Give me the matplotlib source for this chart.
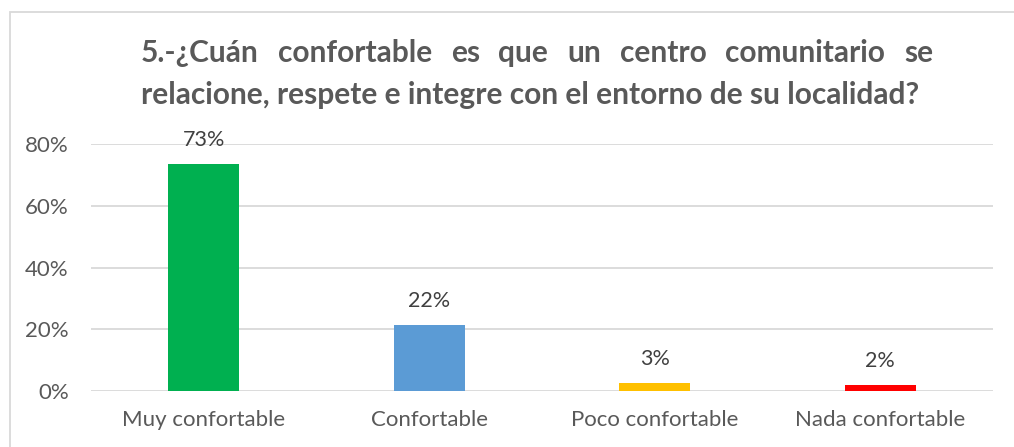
import matplotlib
matplotlib.use("Agg")
import matplotlib.pyplot as plt
from matplotlib.patches import Rectangle

categories = ["Muy confortable", "Confortable", "Poco confortable", "Nada confortable"]
values = [73.5, 21.5, 2.7, 2.0]
labels = ["73%", "22%", "3%", "2%"]
colors = ["#00B050", "#5B9BD5", "#FFC000", "#FF0000"]
title_lines = ["5.-¿Cuán confortable es que un centro comunitario se",
               "relacione, respete e integre con el entorno de su localidad?"]

plt.rcParams['font.family'] = ['Lato', 'DejaVu Sans']

fig = plt.figure(figsize=(10.14, 4.47), dpi=100)
ax = fig.add_axes([91 / 1014, 1 - 391 / 447, 902 / 1014, 247 / 447])

x = range(len(categories))
ax.bar(x, values, width=0.315, color=colors, zorder=3)
for i, v in enumerate(values):
    ax.annotate(labels[i], (i, v), xytext=(0, 10), textcoords="offset points",
                ha="center", va="bottom", fontsize=15.5, color="#404040")

ax.set_xlim(-0.5, 3.5)
ax.set_ylim(0, 80)
ax.set_yticks([0, 20, 40, 60, 80])
ax.set_yticklabels(["0%", "20%", "40%", "60%", "80%"])
ax.set_xticks(list(x))
ax.set_xticklabels(categories)
ax.tick_params(length=0, labelsize=16, colors="#595959")
ax.tick_params(axis="x", pad=14)
ax.tick_params(axis="y", pad=16)
ax.grid(axis="y", color="#D9D9D9", linewidth=1.3, zorder=0)
for s in ax.spines.values():
    s.set_visible(False)

# justified title: first line spread between left and right edges
left, right = 141 / 1014, 933 / 1014
fig.canvas.draw()
r = fig.canvas.get_renderer()
words = title_lines[0].split()
texts = [fig.text(0, 1 - 53 / 447, w, fontsize=21.5, fontweight="bold", color="#595959", va="center")
         for w in words]
widths = [t.get_window_extent(r).width / 1014 for t in texts]
gap = (right - left - sum(widths)) / (len(words) - 1)
pos = left
for t, w in zip(texts, widths):
    t.set_x(pos)
    pos += w + gap
fig.text(left, 1 - 95 / 447, title_lines[1], fontsize=21.5, fontweight="bold", color="#595959", va="center")

fig.patches.append(Rectangle((10 / 1014, -0.1), 1.2, 1 - 12 / 447 + 0.1, transform=fig.transFigure,
                             fill=False, edgecolor="#D9D9D9", linewidth=1.3))
fig.savefig("out.png", dpi=100)
